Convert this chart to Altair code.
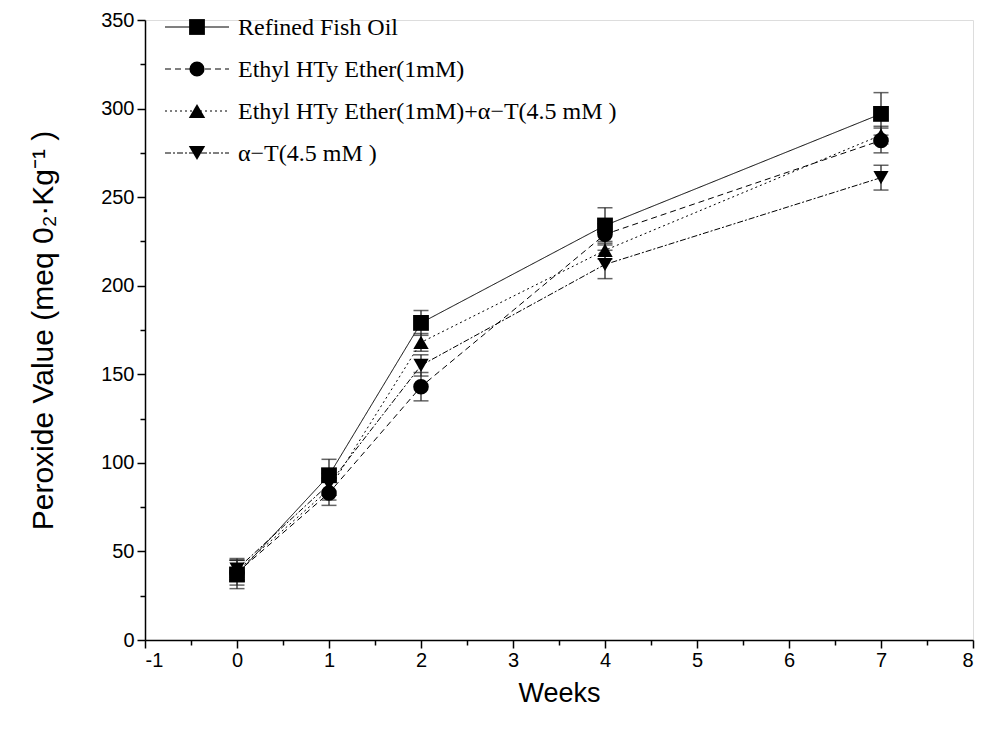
import altair as alt
import pandas as pd

weeks = [0, 1, 2, 4, 7]
series = [
    "Refined Fish Oil",
    "Ethyl HTy Ether(1mM)",
    "Ethyl HTy Ether(1mM)+\u03b1\u2212T(4.5 mM )",
    "\u03b1\u2212T(4.5 mM )",
]
refined = [37, 93, 179, 234, 297]
refined_err = [8, 9, 7, 10, 12]
ethyl = [38, 83, 143, 229, 282]
ethyl_err = [7, 7, 8, 6, 7]
ethyl_at = [39, 85, 168, 220, 285]
ethyl_at_err = [6, 6, 5, 5, 5]
at = [40, 88, 155, 212, 261]
at_err = [6, 6, 6, 8, 7]

x_ticks = [-1, 0, 1, 2, 3, 4, 5, 6, 7, 8]
x_minor = [-0.5, 0.5, 1.5, 2.5, 3.5, 4.5, 5.5, 6.5, 7.5]
y_ticks = [0, 50, 100, 150, 200, 250, 300, 350]
y_minor = [25, 75, 125, 175, 225, 275, 325]

shapes = ["square", "circle", "triangle-up", "triangle-down"]
sizes = [250, 230, 270, 270]
dashes = [[1, 0], [6, 4], [2, 3], [6, 2, 2, 2]]

rows = []
for name, vals, errs in zip(series, [refined, ethyl, ethyl_at, at],
                            [refined_err, ethyl_err, ethyl_at_err, at_err]):
    for w, v, e in zip(weeks, vals, errs):
        rows.append({"series": name, "week": w, "pv": v, "lo": v - e, "hi": v + e})
df = pd.DataFrame(rows)

xscale = alt.Scale(domain=[-1, 8], nice=False)
yscale = alt.Scale(domain=[0, 350], nice=False)

FONT = "Liberation Sans"
SERIF = "Liberation Serif"

x_axis = alt.Axis(values=x_ticks, title="Weeks", grid=False, tickSize=8, tickWidth=1.5,
                  domainWidth=1.5, domainColor="black", tickColor="black",
                  labelExpr="'' + datum.value",
                  labelFont=FONT, labelFontSize=20, labelColor="black", labelPadding=2,
                  titleFont=FONT, titleFontSize=27, titleFontWeight="normal",
                  titleColor="black", titlePadding=10, orient="bottom")
y_axis = alt.Axis(values=y_ticks, title="Peroxide Value (meq 0\u2082\u00b7Kg\u207b\u00b9 )",
                  grid=False, tickSize=8, tickWidth=1.5,
                  domainWidth=1.5, domainColor="black", tickColor="black",
                  labelExpr="'' + datum.value",
                  labelFont=FONT, labelFontSize=20, labelColor="black", labelPadding=3,
                  titleFont=FONT, titleFontSize=30, titleFontWeight="normal",
                  titleColor="black", titlePadding=42, orient="left")

dash_scale = alt.Scale(domain=series, range=dashes)
shape_scale = alt.Scale(domain=series, range=shapes)
size_scale = alt.Scale(domain=series, range=sizes)

base = alt.Chart(df)

lines = base.mark_line(color="black", strokeWidth=1).encode(
    x=alt.X("week:Q", scale=xscale, axis=x_axis),
    y=alt.Y("pv:Q", scale=yscale, axis=y_axis),
    strokeDash=alt.StrokeDash("series:N", scale=dash_scale, legend=None),
    detail="series:N",
)
err = base.mark_rule(color="#444", strokeWidth=1.5).encode(
    x=alt.X("week:Q", scale=xscale, axis=None),
    y=alt.Y("lo:Q", scale=yscale, axis=None),
    y2="hi:Q",
)
cap_lo = base.mark_tick(color="#222", orient="horizontal", size=15, thickness=1.5).encode(
    x=alt.X("week:Q", scale=xscale, axis=None),
    y=alt.Y("lo:Q", scale=yscale, axis=None),
)
cap_hi = base.mark_tick(color="#222", orient="horizontal", size=15, thickness=1.5).encode(
    x=alt.X("week:Q", scale=xscale, axis=None),
    y=alt.Y("hi:Q", scale=yscale, axis=None),
)
pts = base.mark_point(filled=True, color="black", opacity=1).encode(
    x=alt.X("week:Q", scale=xscale, axis=None),
    y=alt.Y("pv:Q", scale=yscale, axis=None),
    shape=alt.Shape("series:N", scale=shape_scale, legend=None),
    size=alt.Size("series:N", scale=size_scale, legend=None),
)

minor = base.mark_point(opacity=0).encode(
    x=alt.X("week:Q", scale=xscale,
            axis=alt.Axis(values=x_minor, orient="bottom", labels=False, title=None,
                          domain=False, grid=False, tickSize=5, tickWidth=1.5,
                          tickColor="black")),
    y=alt.Y("pv:Q", scale=yscale,
            axis=alt.Axis(values=y_minor, orient="left", labels=False, title=None,
                          domain=False, grid=False, tickSize=5, tickWidth=1.5,
                          tickColor="black")),
)

# legend (one row of data per entry so each mark is drawn once)
leg_layers = []
row_y = [7, 49, 91, 133]
for i, name in enumerate(series):
    yv = row_y[i]
    one = alt.Chart(pd.DataFrame({"name": [name]}))
    leg_layers.append(
        one.mark_rule(color="black", strokeWidth=1).encode(
            x=alt.value(20), x2=alt.value(84), y=alt.value(yv),
            strokeDash=alt.value(dashes[i]),
        )
    )
    leg_layers.append(
        one.mark_point(filled=True, color="black", opacity=1,
                       shape=shapes[i], size=sizes[i]).encode(
            x=alt.value(52), y=alt.value(yv),
        )
    )
    leg_layers.append(
        one.mark_text(align="left", baseline="middle", font=SERIF,
                      fontSize=24, fontWeight="normal", color="black").encode(
            x=alt.value(93), y=alt.value(yv + 1), text="name:N",
        )
    )

chart = alt.layer(lines, err, cap_lo, cap_hi, pts, minor, *leg_layers).resolve_axis(
    x="independent", y="independent"
).properties(
    width=828, height=620,
    padding={"left": 137, "top": 12, "right": 3, "bottom": 70},
    autosize=alt.AutoSizeParams(type="none"),
).configure_view(strokeWidth=0).configure(background="white")

chart.save("out.html", embed_options={"renderer": "svg", "actions": False})
